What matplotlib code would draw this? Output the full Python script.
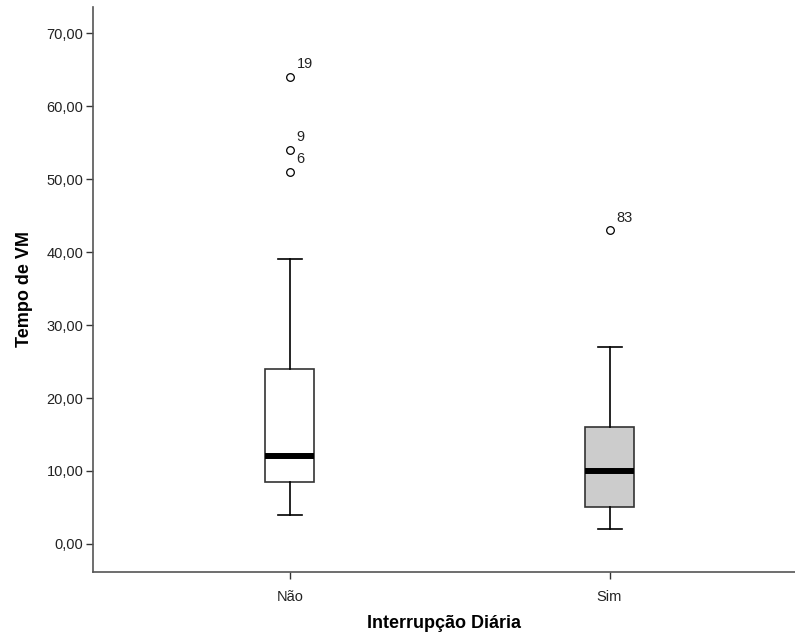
import matplotlib
matplotlib.use("Agg")
import matplotlib.pyplot as plt

plt.rcParams["font.family"] = ["Liberation Sans", "DejaVu Sans"]

# valores (SPSS)
grupos = ["Não", "Sim"]
minimo = [4, 2]
q1 = [8.5, 5]
mediana = [12, 10]
q3 = [24, 16]
maximo = [39, 27]
outliers = [[64, 54, 51], [43]]
outlier_ids = [["19", "9", "6"], ["83"]]
cores = ["white", "#cccccc"]
yticks = [0, 10, 20, 30, 40, 50, 60, 70]

stats = []
for i, g in enumerate(grupos):
    stats.append({
        "label": g,
        "whislo": minimo[i],
        "q1": q1[i],
        "med": mediana[i],
        "q3": q3[i],
        "whishi": maximo[i],
        "fliers": outliers[i],
    })

fig = plt.figure(figsize=(7.95, 6.39), dpi=100)
ax = fig.add_axes([0.117, 0.105, 0.883, 0.884])

pos = [1, 2]
bp = ax.bxp(stats, positions=pos, widths=0.153, patch_artist=True,
            capwidths=0.075,
            boxprops=dict(edgecolor="#333333", linewidth=1.2),
            whiskerprops=dict(color="black", linewidth=1.2),
            capprops=dict(color="black", linewidth=1.2),
            medianprops=dict(color="black", linewidth=4.3, solid_capstyle="butt"),
            flierprops=dict(marker="o", markersize=5.5, markerfacecolor="white",
                            markeredgecolor="black", markeredgewidth=0.9))
for patch, c in zip(bp["boxes"], cores):
    patch.set_facecolor(c)

for i, p in enumerate(pos):
    for v, lab in zip(outliers[i], outlier_ids[i]):
        ax.annotate(lab, (p, v), xytext=(5, 4), textcoords="offset points",
                    fontsize=10.5, color="#222222", ha="left", va="bottom")

ax.set_xlim(0.385, 2.58)
ax.set_ylim(-3.84, 73.6)
ax.set_yticks(yticks)
ax.set_yticklabels([("%.2f" % t).replace(".", ",") for t in yticks])

for s in ["top", "right"]:
    ax.spines[s].set_visible(False)
for s in ["left", "bottom"]:
    ax.spines[s].set_color("#555555")
    ax.spines[s].set_linewidth(1.2)

ax.tick_params(axis="both", direction="out", length=5, width=1,
               color="#333333", labelsize=10.5, labelcolor="#222222")
ax.tick_params(axis="y", pad=2)
ax.tick_params(axis="x", pad=8)

ax.set_ylabel("Tempo de VM", fontsize=13, fontweight="bold")
ax.set_xlabel("Interrupção Diária", fontsize=13, fontweight="bold")
ax.yaxis.set_label_coords(-0.085, 0.5)
ax.xaxis.set_label_coords(0.5, -0.077)

fig.savefig("out.png", dpi=100)
